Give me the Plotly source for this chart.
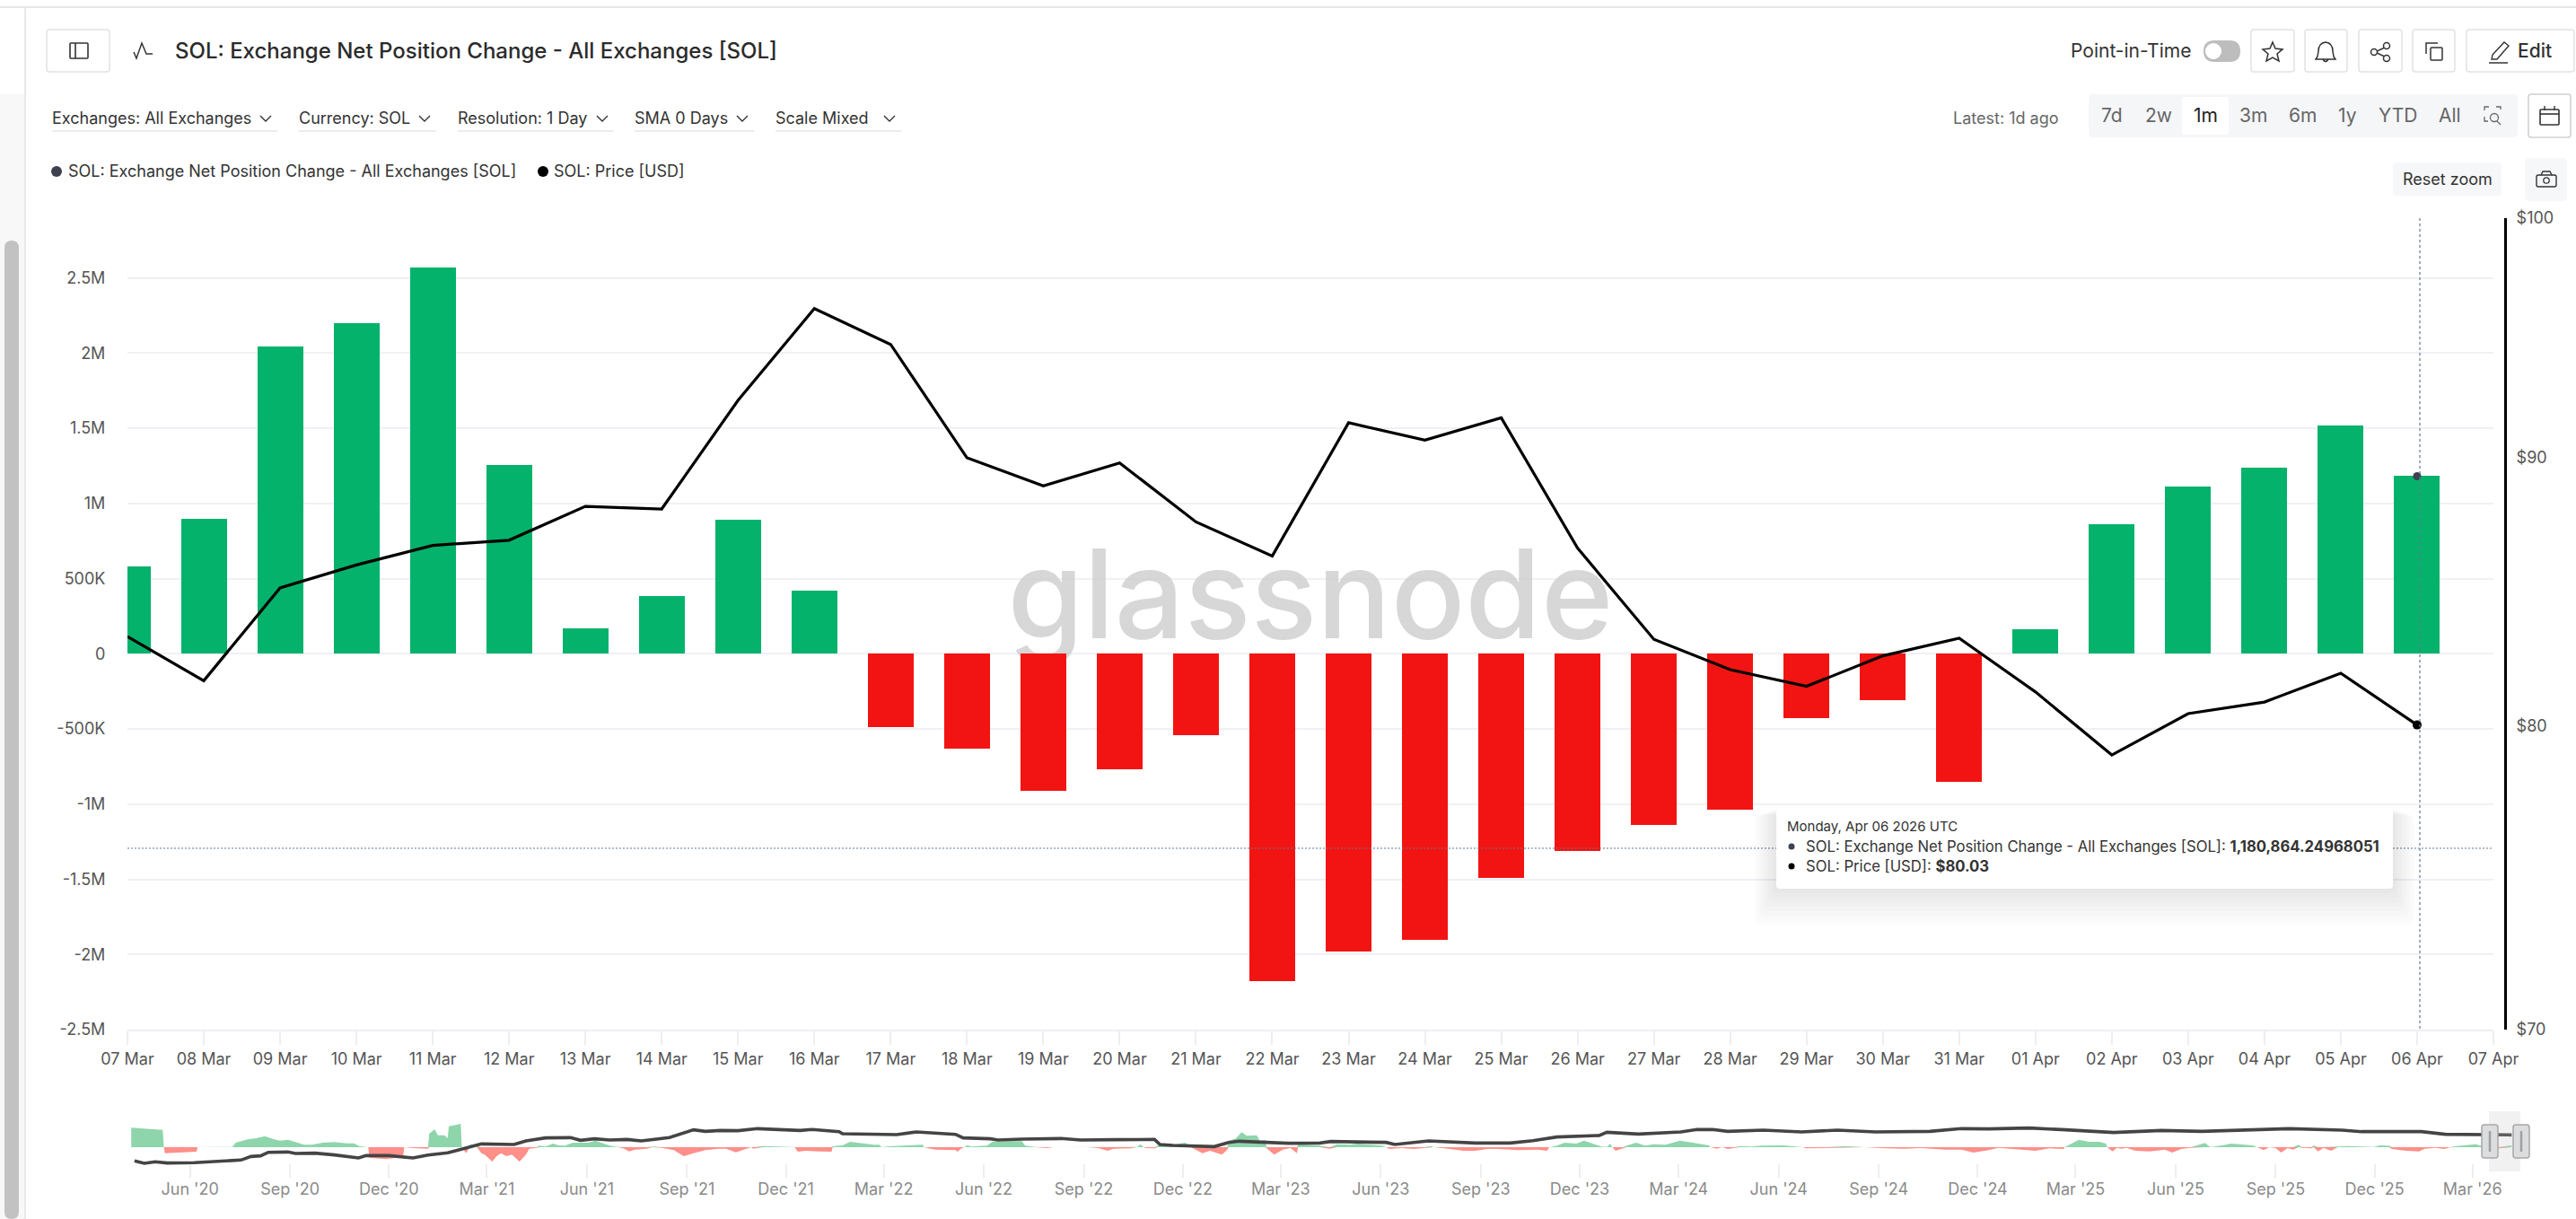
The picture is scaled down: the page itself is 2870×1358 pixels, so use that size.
import datetime as dt
import plotly.graph_objects as go

W, H = 2870, 1358

# ---------- data ----------
dates = ["2026-03-%02d" % d for d in range(7, 32)] + ["2026-04-%02d" % d for d in range(1, 7)]
net_position = [578000, 899000, 2045000, 2200000, 2570000, 1257000, 167000, 383000, 889000, 420000,
                -490000, -630000, -910000, -770000, -540000, -2180000, -1980000, -1900000, -1490000,
                -1310000, -1140000, -1040000, -430000, -310000, -850000,
                160000, 860000, 1110000, 1240000, 1515000, 1180864.25]
price = [83.2, 81.6, 85.0, 85.86, 86.6, 86.8, 88.1, 88.0, 92.3, 96.1, 94.6, 90.0, 88.9, 89.8, 87.5,
         86.2, 91.4, 90.7, 91.6, 86.5, 83.1, 82.0, 81.4, 82.5, 83.14,
         81.2, 78.98, 80.43, 80.84, 81.87, 80.03]
flow_ticks = [2500000, 2000000, 1500000, 1000000, 500000, 0, -500000, -1000000, -1500000, -2000000, -2500000]
flow_labels = ["2.5M", "2M", "1.5M", "1M", "500K", "0", "-500K", "-1M", "-1.5M", "-2M", "-2.5M"]
price_ticks = [70, 80, 90, 100]
price_labels = ["$70", "$80", "$90", "$100"]

nav_start = dt.date(2020, 4, 7)
nav_flow_days = [1, 30, 31, 32, 61, 62, 94, 97, 109, 116, 124, 131, 138, 145, 152, 160, 167, 177, 188, 199, 206, 211,
                 219, 220, 235, 251, 252, 260, 271, 274, 275, 280, 283, 289, 292, 293, 304, 305, 309, 312, 313, 319,
                 323, 326, 333, 337, 341, 346, 351, 358, 364, 367, 374, 376, 382, 389, 394, 400, 407, 414, 421, 428,
                 436, 441, 448, 453, 459, 464, 475, 480, 489, 500, 509, 518, 529, 541, 548, 557, 564, 571, 573, 582,
                 594, 611, 614, 621, 634, 645, 646, 655, 662, 671, 684, 689, 691, 698, 713, 729, 730, 736, 741, 759,
                 761, 764, 767, 770, 773, 788, 793, 806, 820, 823, 832, 843, 849, 863, 881, 890, 899, 904, 920, 926,
                 929, 932, 934, 943, 944, 956, 970, 975, 977, 986, 993, 1004, 1009, 1010, 1017, 1022, 1027, 1036,
                 1039, 1044, 1045, 1052, 1060, 1067, 1073, 1074, 1085, 1094, 1103, 1110, 1122, 1129, 1151, 1155, 1158,
                 1169, 1180, 1190, 1196, 1199, 1212, 1226, 1237, 1248, 1258, 1276, 1294, 1303, 1305, 1312, 1319, 1330,
                 1337, 1348, 1353, 1358, 1361, 1363, 1366, 1373, 1376, 1385, 1393, 1401, 1412, 1425, 1437, 1452, 1453,
                 1459, 1464, 1469, 1475, 1480, 1491, 1500, 1520, 1538, 1541, 1559, 1577, 1595, 1609, 1631, 1647, 1669,
                 1684, 1695, 1709, 1718, 1731, 1752, 1765, 1778, 1779, 1792, 1801, 1811, 1817, 1818, 1823, 1827, 1831,
                 1836, 1844, 1857, 1871, 1878, 1886, 1895, 1908, 1913, 1927, 1932, 1952, 1956, 1962, 1967, 1973, 1978,
                 1984, 1989, 1994, 1997, 2006, 2008, 2012, 2017, 2024, 2030, 2039, 2052, 2063, 2069, 2077, 2080, 2093,
                 2105, 2110, 2120, 2128, 2133, 2139, 2157, 2163, 2178, 2188, 2190]
nav_flow = [65, 58, 0, -20, -15, 0, 1, 15, 27, 30, 37, 28, 22, 25, 18, 8, 8, 15, 17, 13, 13, 3,
            0, -35, -40, -32, 0, -3, -5, -5, 45, 60, 40, 40, 30, 70, 78, 0, -20, 0, 10, 5,
            -20, -25, -48, -30, -20, -30, -25, -48, -25, -5, -2, 5, 2, 12, 6, 5, 15, 15, 15, 22,
            12, 5, 1, -3, -14, -8, -5, 2, -2, -10, -30, -20, -10, -5, -5, -17, -8, 2, -5, 4,
            2, 1, -15, -12, -14, -15, 3, 6, 18, 13, 8, 8, 0, 3, 5, 8, 0, -5, -8, -10,
            -15, -5, 0, 7, 2, 5, 18, 20, 20, 5, 1, -3, 0, 2, 2, -3, -12, -5, -4, 1,
            10, 0, -3, -4, 5, 5, 15, 5, -3, -20, -12, -25, -8, 20, 30, 50, 38, 40,
            20, 25, -3, -25, -8, -3, -20, 10, 8, 5, -5, 10, 8, 12, 5, 0, -6,
            -3, -6, -2, 4, 0, -5, -12, -12, -6, -6, -10, -8, -12, 0, 5, 15, 12,
            22, 8, 2, 1, 12, 0, -12, -2, 5, 15, 5, 10, 8, 22, 15, 6, 0,
            -5, 0, -6, -2, 4, 2, 5, 6, 0, -4, -2, 4, 0, -3, -5, -3, -8,
            -8, -18, -10, -2, -6, -12, -4, -6, 0, 25, 18, 18, 12, 0, -14, -2, -5,
            -2, -12, -14, -8, -18, -6, -2, 14, 0, 8, 12, 6, 0, -10, 0, -3, -18,
            -3, -8, 8, -2, -4, 6, -14, -2, -12, 2, 4, 3, 1, 6, 5, -6, -12,
            -14, -5, -2, -6, -1, 4, 10, 4, -4, 5, 6]
nav_price_days = [4, 13, 23, 34, 59, 81, 102, 111, 120, 127, 145, 152, 170, 188, 210, 217, 238, 260, 274, 292, 310,
                  323, 353, 364, 382, 405, 414, 427, 441, 457, 470, 496, 518, 529, 543, 559, 577, 603, 616, 627,
                  652, 655, 680, 705, 723, 759, 766, 791, 798, 820, 856, 874, 906, 942, 947, 959, 997, 1010, 1020,
                  1042, 1065, 1094, 1104, 1155, 1163, 1194, 1237, 1269, 1290, 1312, 1351, 1358, 1387, 1426, 1441,
                  1455, 1469, 1502, 1537, 1570, 1605, 1655, 1665, 1684, 1709, 1746, 1776, 1824, 1868, 1905, 1986,
                  2034, 2052, 2107, 2129, 2163, 2190]
nav_log_price = [-0.245, -0.44, -0.318, -0.415, -0.39, -0.294, -0.173, 0.118, 0.167, 0.458, 0.482, 0.361, 0.385,
                 0.24, -0.003, 0.191, 0.191, -0.003, 0.24, 0.41, 0.798, 1.137, 1.089, 1.38, 1.623, 1.647, 1.428,
                 1.55, 1.453, 1.501, 1.38, 1.647, 2.278, 2.156, 2.229, 2.205, 2.375, 2.302, 2.229, 2.302, 2.132,
                 1.962, 1.938, 1.889, 2.108, 1.914, 1.623, 1.55, 1.453, 1.525, 1.574, 1.453, 1.477, 1.501, 1.089,
                 1.016, 0.919, 1.259, 1.356, 1.283, 1.186, 1.21, 1.331, 1.259, 1.089, 1.38, 1.21, 1.21, 1.404,
                 1.695, 1.817, 2.083, 1.938, 2.108, 2.302, 2.302, 2.156, 2.253, 2.108, 2.253, 2.108, 2.156, 2.253,
                 2.375, 2.35, 2.423, 2.302, 2.059, 2.229, 2.156, 2.375, 2.253, 2.132, 2.132, 1.914, 1.889, 1.865]

FLOW_NAME = "SOL: Exchange Net Position Change - All Exchanges [SOL]"
PRICE_NAME = "SOL: Price [USD]"

# ---------- colours ----------
GREEN, RED = "#04B26B", "#F21413"
GRID = "#f0f0f5"
DARK = "#3d4150"
ICON = "#333333"


# ---------- pixel helpers ----------
def fx(x): return x / W
def fy(y): return 1 - y / H


shapes, notes = [], []


def add_path(d, fill=None, line=None, lw=1.5, dash=None):
    s = dict(type="path", path=d, xref="paper", yref="paper", layer="above",
             line=dict(color=line or "rgba(0,0,0,0)", width=lw if line else 0))
    if dash:
        s["line"]["dash"] = dash
    if fill:
        s["fillcolor"] = fill
    shapes.append(s)


def poly(pts, close=False, **kw):
    d = "M" + " L".join(f"{fx(x):.6f},{fy(y):.6f}" for x, y in pts) + (" Z" if close else "")
    add_path(d, **kw)


def rrect(x0, y0, x1, y1, r=4, fill=None, line=None, lw=1.5):
    p = lambda x, y: f"{fx(x):.6f},{fy(y):.6f}"
    d = (f"M{p(x0 + r, y0)} L{p(x1 - r, y0)} Q{p(x1, y0)} {p(x1, y0 + r)} L{p(x1, y1 - r)} Q{p(x1, y1)} {p(x1 - r, y1)} "
         f"L{p(x0 + r, y1)} Q{p(x0, y1)} {p(x0, y1 - r)} L{p(x0, y0 + r)} Q{p(x0, y0)} {p(x0 + r, y0)} Z")
    add_path(d, fill=fill, line=line, lw=lw)


def circle(cx, cy, rx, ry=None, fill=None, line=None, lw=1.5):
    ry = ry or rx
    shapes.append(dict(type="circle", xref="paper", yref="paper", layer="above",
                       x0=fx(cx - rx), x1=fx(cx + rx), y0=fy(cy + ry), y1=fy(cy - ry),
                       fillcolor=fill or "rgba(0,0,0,0)",
                       line=dict(color=line or "rgba(0,0,0,0)", width=lw if line else 0)))


def txt(x, y, s, size=18, color="#333333", anchor="left", weight=400):
    notes.append(dict(x=fx(x), y=fy(y), xref="paper", yref="paper", text=s, showarrow=False,
                      xanchor=anchor, yanchor="middle", borderpad=0, borderwidth=0,
                      font=dict(family="Inter", size=size, color=color, weight=weight)))


def chevron(cx, cy, w=6, h=6):
    poly([(cx - w, cy - h / 2), (cx, cy + h / 2), (cx + w, cy - h / 2)], line=ICON, lw=1.4)


# ---------- page chrome ----------
poly([(0, 8), (W, 8)], line="#e6e6e6", lw=2)
rrect(0, 105, 28, H, 0, fill="#f8f8f8")
poly([(28, 8), (28, H)], line="#e8e8e8", lw=2)
rrect(5, 268, 21, H, 8, fill="#c2c2c2")

# header left
rrect(52, 33, 122, 80, 3, fill="white", line="#e2e2e2")
rrect(78, 48, 98, 65, 1, line=ICON, lw=1.6)
poly([(84, 48), (84, 65)], line=ICON, lw=1.6)
poly([(149, 58), (152, 65), (158, 48), (163, 60), (170, 60)], line=ICON, lw=1.5)
txt(195, 57, FLOW_NAME, 24, "#2b2b2b", weight=500)

# dropdowns
for x0, x1, chev, label in [(58, 309, 296, "Exchanges: All Exchanges"), (333, 486, 473, "Currency: SOL"),
                            (510, 683, 671, "Resolution: 1 Day"), (707, 840, 827, "SMA 0 Days"),
                            (864, 1004, 991, "Scale Mixed")]:
    txt(x0, 131, label, 18, "#333333")
    chevron(chev, 132)
    poly([(x0, 146), (x1, 146)], line="#e4e4e8", lw=1.5)

# legend
circle(63, 191, 6, fill=DARK)
txt(76, 191, FLOW_NAME, 18, "#333333")
circle(605, 191, 6, fill="#000000")
txt(617, 191, PRICE_NAME, 18, "#333333")

# header right
txt(2307, 57, "Point-in-Time", 21, "#333333")
rrect(2455, 45, 2496, 69, 12, fill="#bdbdbd")
circle(2466, 57, 9, fill="white")
for x0, x1 in [(2508, 2556), (2568, 2615), (2628, 2676), (2688, 2735), (2748, 2868)]:
    rrect(x0, 33, x1, 80, 3, fill="white", line="#e2e2e2")
# star
poly([(2532, 47), (2535, 54), (2543, 55), (2537, 60), (2539, 68), (2532, 64), (2525, 68), (2527, 60),
      (2521, 55), (2529, 54)], close=True, line=ICON, lw=1.5)
# bell
p = lambda x, y: f"{fx(x):.6f},{fy(y):.6f}"
add_path(f"M{p(2591, 47)} Q{p(2599, 48)} {p(2599, 57)} L{p(2600, 63)} L{p(2602, 66)} L{p(2580, 66)} L{p(2582, 63)} "
         f"L{p(2583, 57)} Q{p(2583, 48)} {p(2591, 47)} Z", line=ICON, lw=1.5)
add_path(f"M{p(2588, 66)} Q{p(2591, 71)} {p(2594, 66)}", line=ICON, lw=1.5)
# share
poly([(2659, 52), (2646, 58), (2659, 64)], line=ICON, lw=1.4)
circle(2659, 51, 3.5, fill="white", line=ICON)
circle(2645, 58, 3.5, fill="white", line=ICON)
circle(2659, 65, 3.5, fill="white", line=ICON)
# copy
rrect(2708, 53, 2721, 67, 1, line=ICON, lw=1.5)
poly([(2703, 60), (2703, 48), (2716, 48)], line=ICON, lw=1.5)
# edit
poly([(2777, 61), (2790, 47), (2795, 51), (2782, 66), (2776, 66)], close=True, line=ICON, lw=1.4)
poly([(2773, 70), (2794, 70)], line=ICON, lw=1.5)
txt(2805, 57, "Edit", 21, "#333333", weight=500)

# range row
txt(2176, 132, "Latest: 1d ago", 18, "#666666")
rrect(2327, 105, 2805, 153, 4, fill="#f5f6f8")
rrect(2431, 108, 2483, 150, 3, fill="white")
for cx, label in [(2353, "7d"), (2405, "2w"), (2457, "1m"), (2510, "3m"), (2565, "6m"), (2615, "1y"),
                  (2671, "YTD"), (2729, "All")]:
    txt(cx, 128, label, 21, "#222222" if label == "1m" else "#666666", anchor="center")
poly([(2768, 123), (2768, 119), (2773, 119)], line="#666666", lw=1.3)
poly([(2781, 119), (2786, 119), (2786, 122)], line="#666666", lw=1.3)
poly([(2768, 130), (2768, 135), (2772, 135)], line="#666666", lw=1.3)
circle(2779, 131, 4.5, line="#666666", lw=1.3)
poly([(2782, 135), (2786, 139)], line="#666666", lw=1.3)
rrect(2817, 105, 2864, 153, 3, fill="white", line="#cfcfcf")
rrect(2830, 122, 2851, 139, 1, line=ICON, lw=1.6)
poly([(2830, 127), (2851, 127)], line=ICON, lw=1.6)
poly([(2835, 118), (2835, 123)], line=ICON, lw=1.4)
poly([(2846, 118), (2846, 123)], line=ICON, lw=1.4)

rrect(2666, 181, 2787, 218, 4, fill="#f6f7f9")
txt(2726.5, 199, "Reset zoom", 18, "#333333", anchor="center")
rrect(2813, 176, 2860, 224, 5, fill="#f6f7f9")
rrect(2826, 195, 2848, 208, 2, line=ICON, lw=1.4)
poly([(2831, 195), (2833, 191), (2841, 191), (2843, 195)], line=ICON, lw=1.4)
circle(2837, 201, 3.2, line=ICON, lw=1.3)

# crosshair
poly([(2696, 243), (2696, 1147)], line="#5f7a8f", lw=1.2, dash="3px,3px")
poly([(142, 945), (2778, 945)], line="#5f7a8f", lw=1.2, dash="2px,2px")

# tooltip
for i in range(9):
    rrect(1979 - i * 3, 900 + i, 2666 + i * 3, 990 + i * 5, 6, fill="rgba(0,0,0,0.011)")
rrect(1979, 900, 2666, 990, 4, fill="white")
txt(1991, 920, "Monday, Apr 06 2026 UTC", 15, "#333333")
circle(1996, 943, 3.5, fill=DARK)
txt(2012, 943, FLOW_NAME + ": <b>1,180,864.24968051</b>", 16.7, "#333333")
circle(1996, 965, 3.5, fill="#000000")
txt(2012, 965, PRICE_NAME + ": <b>$80.03</b>", 16.7, "#333333")

# navigator selector
rrect(2773, 1238, 2808, 1305, 0, fill="rgba(190,190,190,0.22)")
for x0, x1 in [(2765, 2783), (2800, 2818)]:
    rrect(x0, 1253, x1, 1290, 3, fill="#dcdddf", line="#a8a8a8", lw=1.5)
    poly([((x0 + x1) / 2, 1260), ((x0 + x1) / 2, 1283)], line="#a0a0a0", lw=2.5)

# ---------- figure ----------
fig = go.Figure()

# watermark lives in the base subplot so that bars and lines cover it
fig.add_trace(go.Scatter(x=["2026-03-22T12:00:00"], y=[0.52], mode="text", text=["glassnode"], xaxis="x", yaxis="y",
                         textposition="middle center", hoverinfo="skip", showlegend=False, cliponaxis=False,
                         textfont=dict(family="Inter", size=137, color="rgba(205,205,205,0.8)", weight=500)))

fig.add_trace(go.Bar(x=dates, y=net_position, name=FLOW_NAME, xaxis="x", yaxis="y2", width=0.6 * 86400000,
                     marker=dict(color=[GREEN if v >= 0 else RED for v in net_position], line=dict(width=0)),
                     showlegend=False))
fig.add_trace(go.Scatter(x=dates, y=price, name=PRICE_NAME, mode="lines", xaxis="x", yaxis="y3",
                         line=dict(color="#000000", width=3.2), showlegend=False))
fig.add_trace(go.Scatter(x=dates[-1:], y=net_position[-1:], mode="markers", xaxis="x", yaxis="y2",
                         marker=dict(color=DARK, size=9), showlegend=False, hoverinfo="skip"))
fig.add_trace(go.Scatter(x=dates[-1:], y=price[-1:], mode="markers", xaxis="x", yaxis="y3",
                         marker=dict(color="#000000", size=10), showlegend=False, hoverinfo="skip"))

nav_flow_dates = [nav_start + dt.timedelta(days=d) for d in nav_flow_days]
nav_price_dates = [nav_start + dt.timedelta(days=d) for d in nav_price_days]
fig.add_trace(go.Scatter(x=nav_flow_dates, y=[max(v, 0) for v in nav_flow], mode="lines", fill="tozeroy", xaxis="x2",
                         yaxis="y4", line=dict(width=0), fillcolor="#8fd5ac", showlegend=False, hoverinfo="skip"))
fig.add_trace(go.Scatter(x=nav_flow_dates, y=[min(v, 0) for v in nav_flow], mode="lines", fill="tozeroy", xaxis="x2",
                         yaxis="y4", line=dict(width=0), fillcolor="#fe8f89", showlegend=False, hoverinfo="skip"))
fig.add_trace(go.Scatter(x=nav_price_dates, y=nav_log_price, mode="lines", xaxis="x2", yaxis="y5",
                         line=dict(color="#444444", width=3.6), showlegend=False, hoverinfo="skip"))

main_dom_y = [fy(1147), fy(243)]
nav_dom_y = [fy(1312), fy(1240)]
tickfont = dict(family="Inter", size=18, color="#555555")

fig.update_layout(
    width=W, height=H, margin=dict(l=0, r=0, t=0, b=0, pad=0, autoexpand=False), autosize=False,
    paper_bgcolor="white", plot_bgcolor="rgba(0,0,0,0)", showlegend=False, bargap=0,
    hovermode=False, shapes=shapes, annotations=notes,
    xaxis=dict(domain=[fx(142), fx(2778)], type="date", range=["2026-03-07", "2026-04-07"], anchor="y",
               tick0="2026-03-07", dtick=86400000, tickformat="%d %b", tickangle=0, showgrid=False, zeroline=False,
               showline=True, linecolor="#eeeef4", linewidth=2, ticks="outside", ticklen=15, tickcolor="#eeeeee",
               tickwidth=1.5, tickfont=tickfont),
    yaxis=dict(domain=main_dom_y, range=[0, 1], visible=False, fixedrange=True),
    yaxis2=dict(domain=main_dom_y, overlaying="y", anchor="x", side="left", range=[-2500000, 2897000],
                tickvals=flow_ticks, ticktext=flow_labels, showgrid=True, gridcolor=GRID, gridwidth=2,
                zeroline=True, zerolinecolor=GRID, zerolinewidth=2, showline=False, ticks="outside", ticklen=20,
                tickcolor="rgba(255,255,255,0)", tickfont=tickfont),
    yaxis3=dict(domain=main_dom_y, overlaying="y", anchor="free", position=fx(2791), side="right", type="log",
                range=[1.845098, 2], tickvals=price_ticks, ticktext=price_labels, showgrid=False, zeroline=False,
                showline=True, linecolor="#000000", linewidth=3, ticks="outside", ticklen=7,
                tickcolor="rgba(255,255,255,0)", tickfont=tickfont),
    xaxis2=dict(domain=[fx(145), fx(2808)], type="date", range=["2020-04-07", "2026-04-14"], anchor="y4",
                tick0="2020-06-01", dtick="M3", tickformat="%b '%y", tickangle=0, showgrid=False, zeroline=False,
                showline=False, ticks="inside", ticklen=15, tickcolor="#eeeeee", tickwidth=1.5,
                tickfont=dict(family="Inter", size=18, color="#8a8a8a")),
    yaxis4=dict(domain=nav_dom_y, anchor="x2", range=[-102, 114], visible=False, fixedrange=True),
    yaxis5=dict(domain=nav_dom_y, anchor="x2", overlaying="y4", range=[-1.604, 3.636], visible=False, fixedrange=True),
)

fig.write_html("out.html", config=dict(displayModeBar=False),
               post_script="document.body.style.margin='0';document.body.style.overflow='hidden';")
